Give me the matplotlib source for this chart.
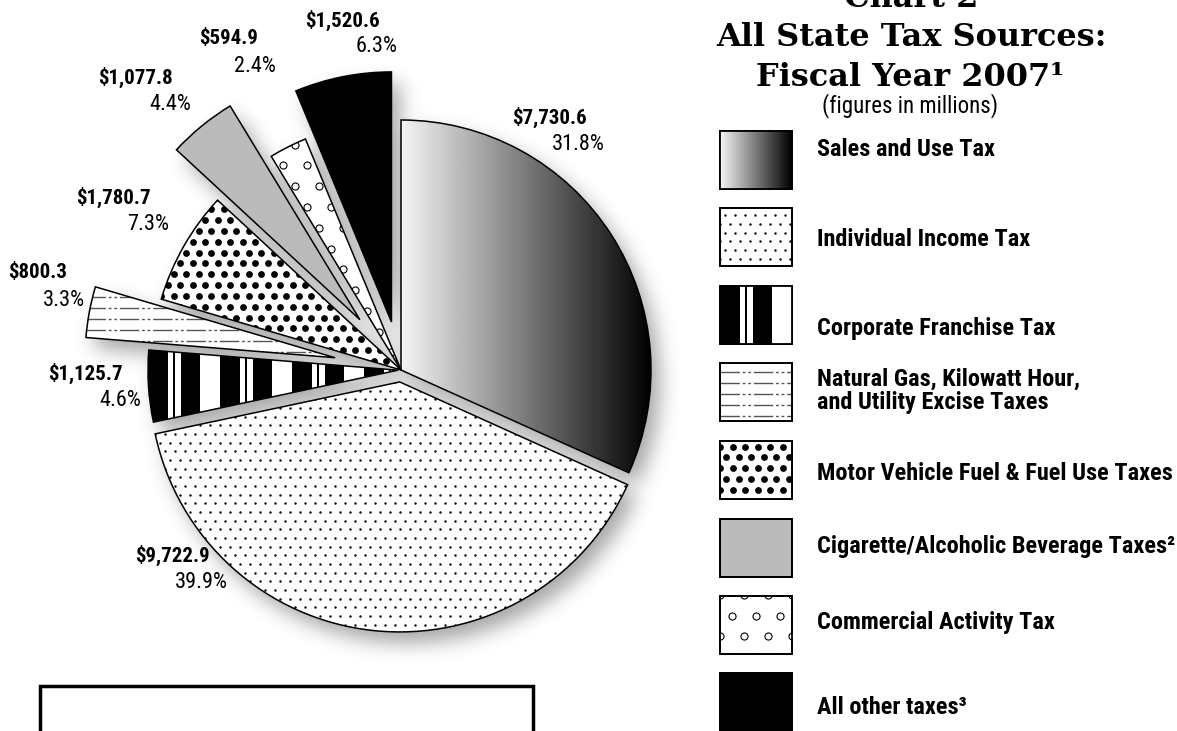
import numpy as np
import matplotlib.pyplot as plt
from matplotlib.patches import Rectangle, Wedge

plt.rcParams['font.family'] = ['Liberation Sans Narrow', 'Roboto Condensed', 'DejaVu Sans']

W, H = 1177, 731

# state tax sources, fiscal year 2007 ($ millions)
sources = ['Sales and Use Tax', 'Individual Income Tax', 'Corporate Franchise Tax',
           'Natural Gas, Kilowatt Hour,\nand Utility Excise Taxes',
           'Motor Vehicle Fuel & Fuel Use Taxes',
           'Cigarette/Alcoholic Beverage Taxes²', 'Commercial Activity Tax',
           'All other taxes³']
amounts = [7730.6, 9722.9, 1125.7, 800.3, 1780.7, 1077.8, 594.9, 1520.6]
percents = [31.8, 39.9, 4.6, 3.3, 7.3, 4.4, 2.4, 6.3]

# layout, in pixels measured from the top-left corner
pie_center = (401, 370)
pie_radius = 250
explode_px = [0, 12, 3, 67, 0, 65, 0, 49]
label_pos = [(587, 117), (210, 555), (123, 373), (67, 273),
             (151, 197), (173, 77), (258, 39), (380, 20)]
legend_top = [131, 208, 286, 363, 441, 519, 596, 673]
legend_text_y = [150, 240, 328, 391, 473, 547, 622, 707]


def to_y(y):
    return H - y


def data_bbox(patch):
    return patch.get_patch_transform().transform_path(patch.get_path()).get_extents()


def gradient_fill(ax, patch):
    bb = data_bbox(patch)
    ramp = np.linspace(0.96, 0.0, 256)[None, :]
    im = ax.imshow(ramp, cmap='gray', vmin=0, vmax=1, aspect='auto', zorder=2,
                   extent=(bb.x0, bb.x1, bb.y0, bb.y1), interpolation='bilinear')
    im.set_clip_path(patch)


def stripe_fill(ax, patch):
    bb = data_bbox(patch)
    x0 = int(bb.x0)
    cols = np.arange(x0, int(np.ceil(bb.x1)) + 1)
    ph = (cols - x0) % 72
    dark = (ph < 20) | ((ph >= 25) & (ph < 27)) | ((ph >= 33) & (ph < 52))
    img = np.where(dark, 0.0, 1.0)[None, :]
    im = ax.imshow(img, cmap='gray', vmin=0, vmax=1, aspect='auto', zorder=2,
                   extent=(cols[0], cols[-1] + 1, bb.y0, bb.y1), interpolation='nearest')
    im.set_clip_path(patch)


def dot_fill(ax, patch, step, size, hollow=False):
    bb = data_bbox(patch)
    xs = np.arange(bb.x0 - step, bb.x1 + step, step)
    ys = np.arange(bb.y0 - step, bb.y1 + step, step * 0.866)
    gx, gy = np.meshgrid(xs, ys)
    gx[1::2] += step / 2
    if hollow:
        sc = ax.scatter(gx.ravel(), gy.ravel(), s=size, facecolors='white',
                        edgecolors='black', linewidths=0.8, zorder=2)
    else:
        sc = ax.scatter(gx.ravel(), gy.ravel(), s=size, c='black', linewidths=0, zorder=2)
    sc.set_clip_path(patch)


def line_fill(ax, patch, step=11):
    bb = data_bbox(patch)
    ys = np.arange(bb.y0 + step / 2, bb.y1, step)
    lc = ax.hlines(ys, bb.x0, bb.x1, colors='#555555', linewidth=1,
                   linestyles=[(0, (14, 2, 2, 2, 2, 2))], zorder=2)
    lc.set_clip_path(patch)


def fill_patch(ax, patch, i):
    faces = ['white', 'white', 'white', 'white', 'white', '#bbbbbb', 'white', 'black']
    patch.set_facecolor(faces[i])
    if i == 0:
        gradient_fill(ax, patch)
    elif i == 1:
        dot_fill(ax, patch, 10, 3)
    elif i == 2:
        stripe_fill(ax, patch)
    elif i == 3:
        line_fill(ax, patch)
    elif i == 4:
        dot_fill(ax, patch, 12.5, 24)
    elif i == 6:
        dot_fill(ax, patch, 24, 26, hollow=True)


def soft_shadow(ax, patches, dx=9, dy=-11, sigma=10, strength=0.35):
    xx, yy = np.meshgrid(np.arange(W) + 0.5, np.arange(H) + 0.5)
    pts = np.column_stack([xx.ravel() - dx, yy.ravel() - dy])
    mask = np.zeros(W * H)
    for p in patches:
        path = p.get_patch_transform().transform_path(p.get_path())
        mask = np.maximum(mask, path.contains_points(pts))
    mask = mask.reshape(H, W)
    r = int(3 * sigma)
    k = np.exp(-0.5 * (np.arange(-r, r + 1) / sigma) ** 2)
    k /= k.sum()
    mask = np.apply_along_axis(lambda m: np.convolve(m, k, mode='same'), 0, mask)
    mask = np.apply_along_axis(lambda m: np.convolve(m, k, mode='same'), 1, mask)
    rgba = np.zeros((H, W, 4))
    rgba[..., 3] = mask * strength
    ax.imshow(rgba, extent=(0, W, 0, H), origin='lower', aspect='auto', zorder=0.5)


fig = plt.figure(figsize=(W / 100, H / 100), dpi=100)
ax = fig.add_axes([0, 0, 1, 1])

wedges, _ = ax.pie(amounts, explode=explode_px, startangle=90, counterclock=False,
                   radius=pie_radius, center=(pie_center[0], to_y(pie_center[1])),
                   wedgeprops=dict(linewidth=0))

soft_shadow(ax, wedges)
for i, w in enumerate(wedges):
    fill_patch(ax, w, i)
    ax.add_patch(Wedge(w.center, w.r, w.theta1, w.theta2, fill=False,
                       edgecolor='black', linewidth=1.1, zorder=3))

# value labels
for (x, y), amt, pct in zip(label_pos, amounts, percents):
    ax.text(x, to_y(y), f'${amt:,.1f}', ha='right', va='center',
            fontsize=15, fontweight='bold')
    ax.text(x + 18, to_y(y + 27), f'{pct:.1f}%', ha='right', va='center', fontsize=16)

# legend
for i, (name, top, ty) in enumerate(zip(sources, legend_top, legend_text_y)):
    box = Rectangle((720, to_y(top + 58)), 72, 58, facecolor='white',
                    edgecolor='black', linewidth=1.3, zorder=1)
    ax.add_patch(box)
    fill_patch(ax, box, i)
    ax.add_patch(Rectangle((720, to_y(top + 58)), 72, 58, fill=False,
                           edgecolor='black', linewidth=1.3, zorder=3))
    ax.text(817, to_y(ty), name, ha='left', va='center', fontsize=17.5,
            fontweight='bold', linespacing=1.05)

# titles
serif = dict(family='DejaVu Serif', fontweight='bold', fontsize=23, ha='center')
ax.text(911, to_y(7), 'Chart 2', va='baseline', **serif)
ax.text(911, to_y(46), 'All State Tax Sources:', va='baseline', **serif)
ax.text(910, to_y(86), 'Fiscal Year 2007¹', va='baseline', **serif)
ax.text(910, to_y(106), '(figures in millions)', ha='center', va='center', fontsize=16.5)

# empty note box under the pie
ax.add_patch(Rectangle((40, to_y(760)), 493, 74, fill=False, edgecolor='black',
                       linewidth=2.5, zorder=3))

ax.set_xlim(0, W)
ax.set_ylim(0, H)
ax.set_aspect('auto')
ax.axis('off')
fig.savefig('out.png', dpi=100)
